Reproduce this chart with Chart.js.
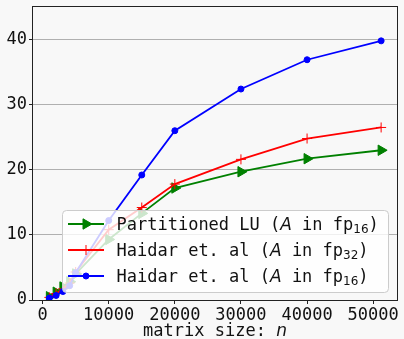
<!DOCTYPE html>
<html>
<head>
<meta charset="utf-8">
<script src="https://cdn.jsdelivr.net/npm/chart.js@4.4.1/dist/chart.umd.min.js"></script>
<style>
  html, body { margin: 0; padding: 0; background: #f8f8f8; }
</style>
</head>
<body>
<canvas id="graficoLU" width="404" height="339"></canvas>
<script>
// tamanhos de matriz (eixo x)
const matrixSizes = [1024, 2048, 3072, 4096, 5000, 10000, 15000, 20000, 30000, 40000, 51200];
// series
const partitionedLU = [0.5, 1.2, 2.0, 2.8, 4.0, 9.3, 13.3, 17.2, 19.7, 21.7, 23.0];
const haidarFp32 = [0.4, 1.0, 1.7, 2.6, 4.3, 10.8, 14.2, 17.8, 21.6, 24.8, 26.5];
const haidarFp16 = [0.3, 0.7, 1.3, 2.2, 4.2, 12.2, 19.2, 26.0, 32.4, 36.9, 39.8];
// ticks
const xTicks = [0, 10000, 20000, 30000, 40000, 50000];
const yTicks = [0, 10, 20, 30, 40];
// legenda (partes: n = normal, i = italico, s = subscrito)
const legendLabels = [
    [['Partitioned LU (', 'n'], ['A', 'i'], [' in fp', 'n'], ['16', 's'], [')', 'n']],
    [['Haidar et. al (', 'n'], ['A', 'i'], [' in fp', 'n'], ['32', 's'], [')', 'n']],
    [['Haidar et. al (', 'n'], ['A', 'i'], [' in fp', 'n'], ['16', 's'], [')', 'n']]
];
const xTitle = [['matrix size: ', 'n'], ['n', 'i']];

const MONO = '"DejaVu Sans Mono"';
const fontes = {
    n: '17px ' + MONO,
    i: 'italic 17px "DejaVu Sans"',
    s: '12px "DejaVu Sans"'
};

function pontos(valores) {
    return matrixSizes.map((n, i) => ({ x: n, y: valores[i] }));
}

function desenhaTexto(ctx, partes, x, y) {
    partes.forEach(p => {
        ctx.font = fontes[p[1]];
        ctx.fillText(p[0], x, y + (p[1] === 's' ? 3 : 0));
        x += ctx.measureText(p[0]).width;
    });
}

function larguraTexto(ctx, partes) {
    let w = 0;
    partes.forEach(p => {
        ctx.font = fontes[p[1]];
        w += ctx.measureText(p[0]).width;
    });
    return w;
}

const datasets = [
    {
        data: pontos(partitionedLU),
        borderColor: '#008000', backgroundColor: '#008000',
        pointStyle: 'triangle', pointRotation: 90, pointRadius: 6, pointBorderWidth: 1,
        borderWidth: 1.8, order: 2
    },
    {
        data: pontos(haidarFp32),
        borderColor: '#ff0000', backgroundColor: '#ff0000',
        pointStyle: 'cross', pointRadius: 5, pointBorderWidth: 1,
        borderWidth: 1.8, order: 1
    },
    {
        data: pontos(haidarFp16),
        borderColor: '#0000ff', backgroundColor: '#0000ff',
        pointStyle: 'circle', pointRadius: 3, pointBorderWidth: 1,
        borderWidth: 1.8, order: 0
    }
];

// fundo, moldura, titulo do eixo x e legenda
const extras = {
    id: 'extras',
    beforeDraw(chart) {
        const ctx = chart.ctx;
        ctx.save();
        ctx.fillStyle = '#f8f8f8';
        ctx.fillRect(0, 0, chart.width, chart.height);
        ctx.restore();
    },
    afterDraw(chart) {
        const ctx = chart.ctx;
        const a = chart.chartArea;
        ctx.save();

        // moldura
        ctx.strokeStyle = '#222';
        ctx.lineWidth = 1;
        ctx.strokeRect(a.left - 0.5, a.top - 0.5, a.width + 1, a.height + 1);

        // titulo eixo x
        ctx.fillStyle = '#111';
        ctx.textBaseline = 'alphabetic';
        const wt = larguraTexto(ctx, xTitle);
        desenhaTexto(ctx, xTitle, (a.left + a.right) / 2 - wt / 2, chart.height - 3);

        // legenda
        const bw = 326, bh = 82;
        const bx = a.right - 9 - bw, by = a.bottom - 8 - bh;
        ctx.beginPath();
        if (ctx.roundRect) ctx.roundRect(bx + 0.5, by + 0.5, bw, bh, 4);
        else ctx.rect(bx + 0.5, by + 0.5, bw, bh);
        ctx.fillStyle = 'rgba(255,255,255,0.8)';
        ctx.fill();
        ctx.strokeStyle = '#cccccc';
        ctx.stroke();

        datasets.forEach((ds, i) => {
            const cy = by + 14 + i * 26;
            ctx.strokeStyle = ds.borderColor;
            ctx.fillStyle = ds.backgroundColor;
            ctx.lineWidth = ds.borderWidth;
            ctx.beginPath();
            ctx.moveTo(bx + 6, cy);
            ctx.lineTo(bx + 42, cy);
            ctx.stroke();
            ctx.lineWidth = ds.pointBorderWidth;
            Chart.helpers.drawPoint(ctx, {
                pointStyle: ds.pointStyle,
                radius: ds.pointRadius,
                rotation: ds.pointRotation || 0,
                borderWidth: ds.pointBorderWidth
            }, bx + 24, cy);
            ctx.fillStyle = '#111';
            desenhaTexto(ctx, legendLabels[i], bx + 54.5, cy + 6);
        });

        ctx.restore();
    }
};

const ctx = document.getElementById('graficoLU').getContext('2d');
new Chart(ctx, {
    type: 'line',
    data: { datasets: datasets },
    options: {
        responsive: false,
        animation: false,
        layout: { padding: { top: 7, right: 2, left: 0, bottom: 0 } },
        elements: { line: { tension: 0 } },
        plugins: {
            legend: { display: false },
            tooltip: { enabled: false }
        },
        scales: {
            x: {
                type: 'linear',
                min: -1450,
                max: 53600,
                afterBuildTicks: scale => { scale.ticks = xTicks.map(v => ({ value: v })); },
                afterFit: scale => {
                    scale.height = 39;
                    scale.paddingLeft = 0;
                    scale.paddingRight = 0;
                },
                grid: { drawOnChartArea: false, drawTicks: true, tickLength: 4, tickColor: '#222' },
                border: { display: false },
                ticks: {
                    color: '#111', padding: 1, maxRotation: 0, autoSkip: false,
                    font: { family: 'DejaVu Sans Mono', size: 17 },
                    callback: v => String(v)
                }
            },
            y: {
                min: 0,
                max: 45,
                afterBuildTicks: scale => { scale.ticks = yTicks.map(v => ({ value: v })); },
                afterFit: scale => {
                    scale.width = 33;
                    scale.paddingTop = 0;
                    scale.paddingBottom = 0;
                },
                grid: { color: '#b0b0b0', lineWidth: 1, tickLength: 4, tickColor: '#222' },
                border: { display: false },
                ticks: {
                    color: '#111', padding: 2,
                    font: { family: 'DejaVu Sans Mono', size: 17 },
                    callback: v => String(v)
                }
            }
        }
    },
    plugins: [extras]
});
</script>
</body>
</html>
